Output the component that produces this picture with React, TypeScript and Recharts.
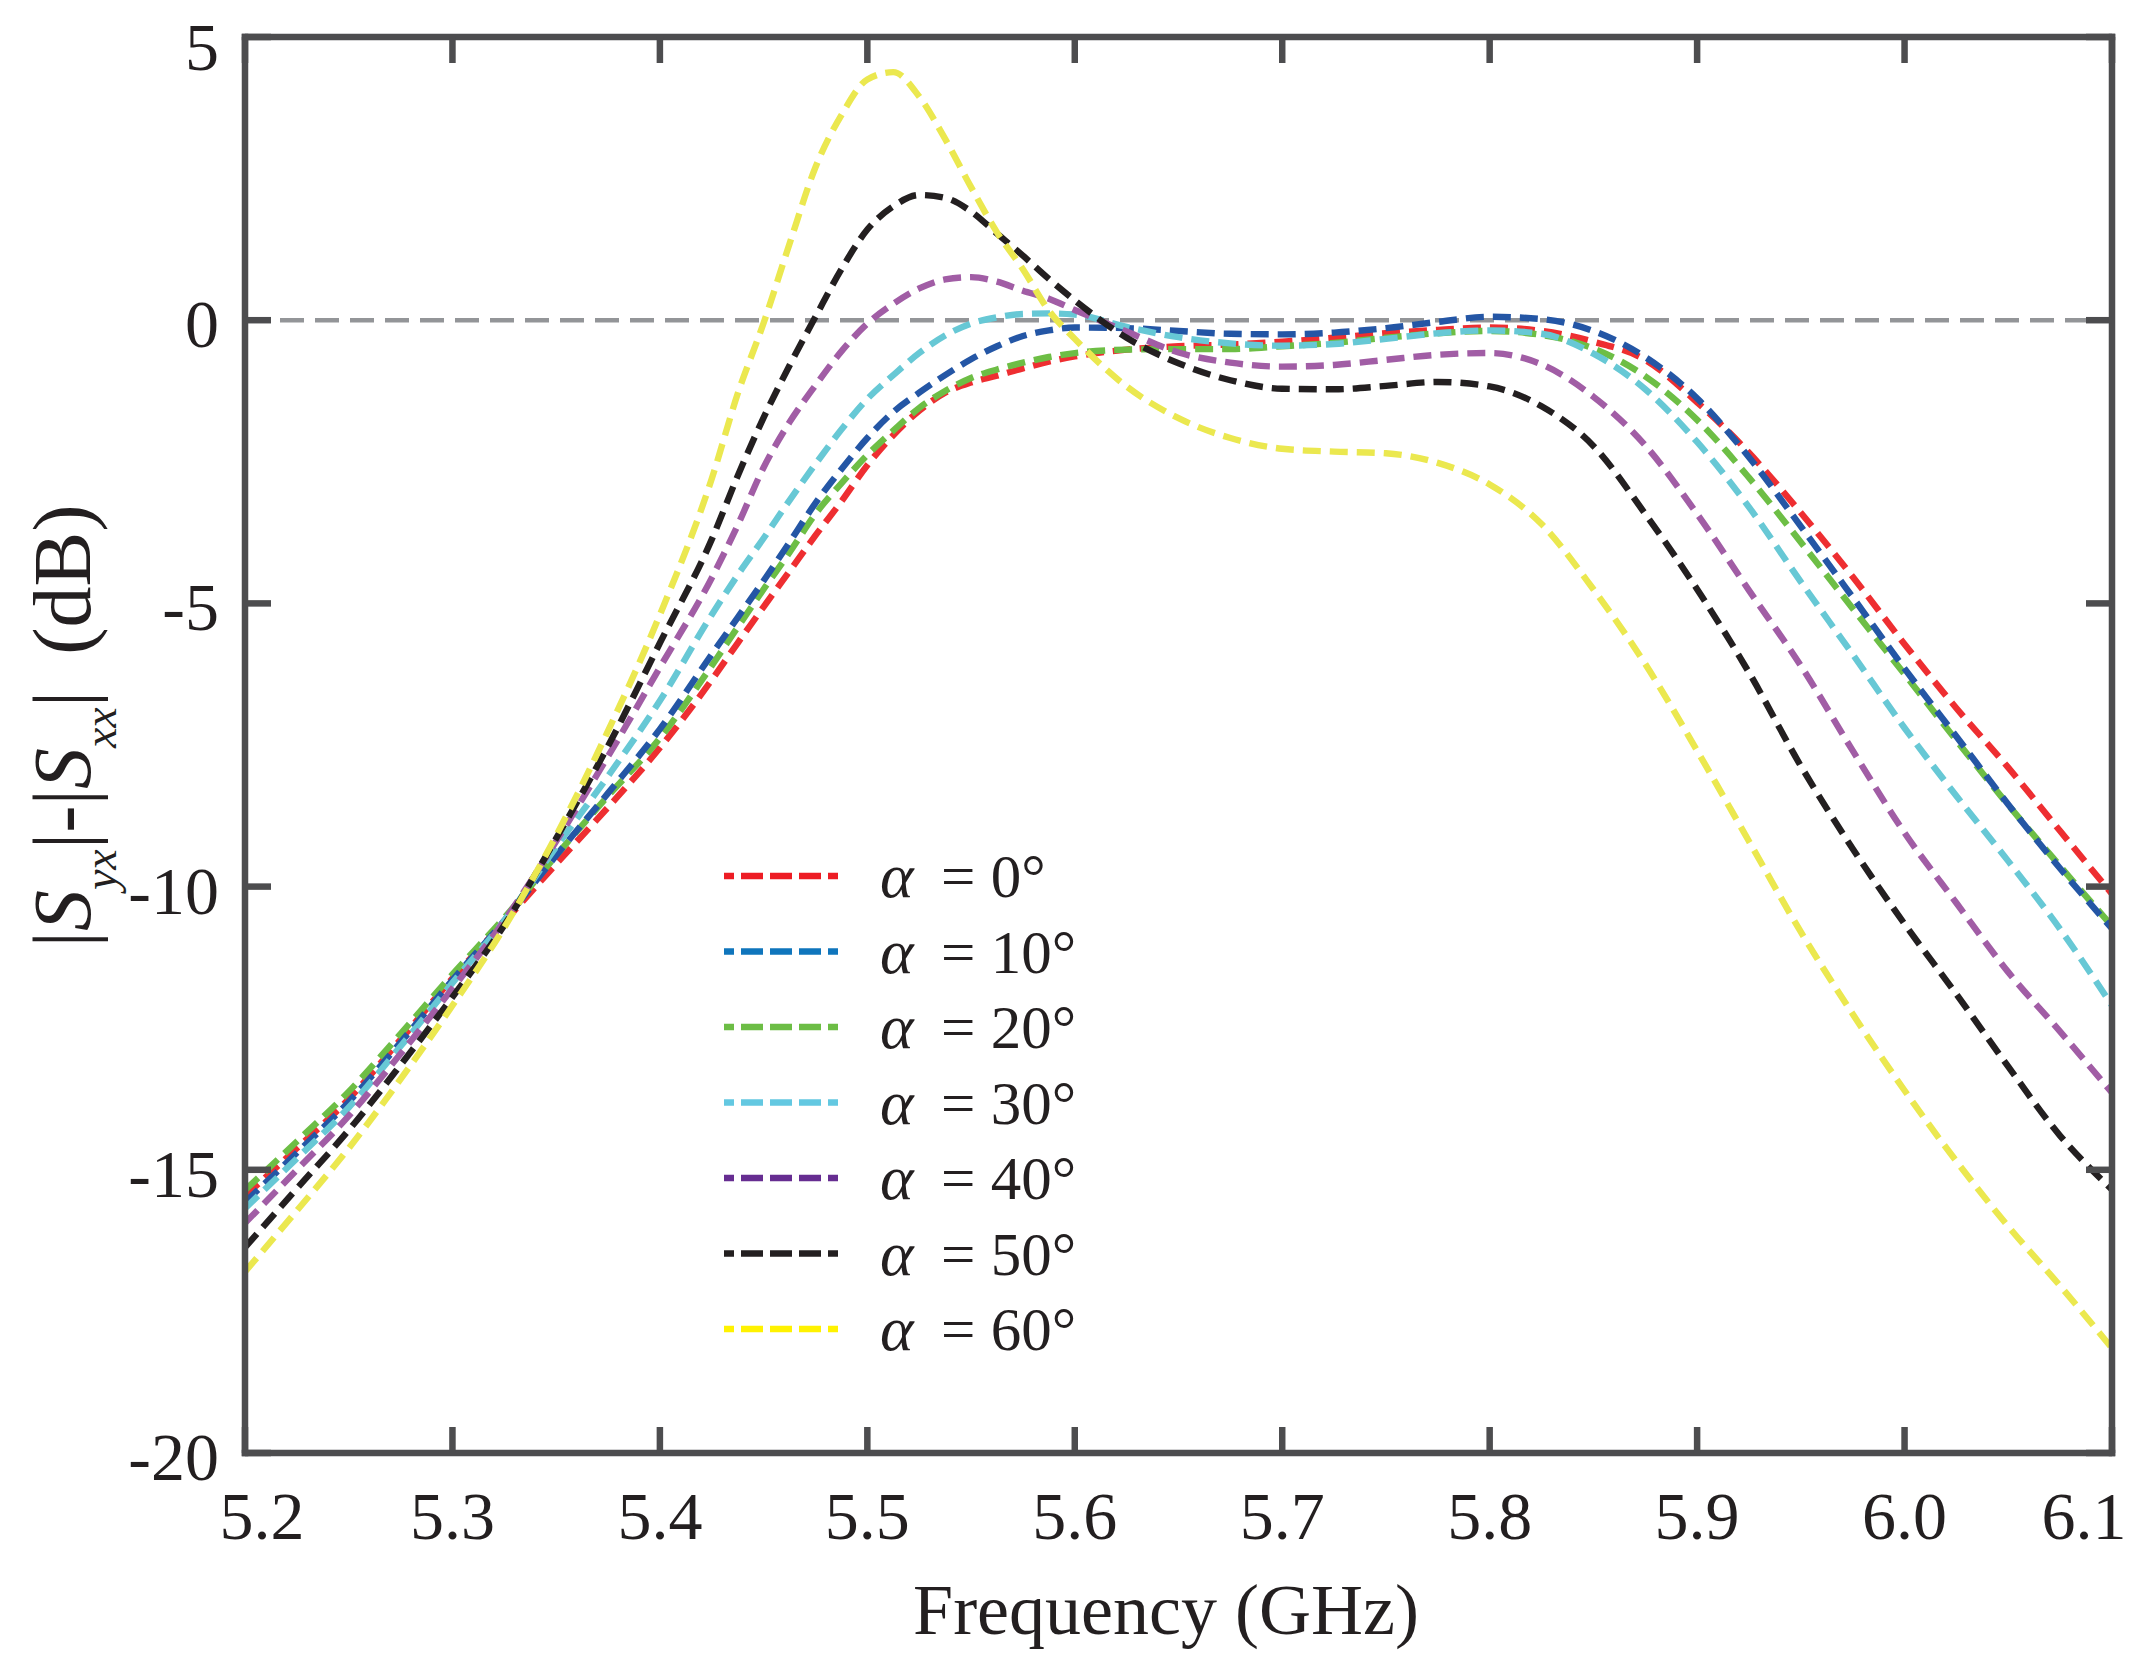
import React from 'react';
import { LineChart, Line, XAxis, YAxis, ReferenceLine, Legend } from 'recharts';

// frequency samples in GHz, shared by every curve (denser around the peaks)
const freq = [
  5.2, 5.225, 5.25, 5.275, 5.3, 5.325, 5.35, 5.375, 5.4, 5.425,
  5.4375, 5.45, 5.4625, 5.475, 5.4875, 5.5, 5.5125, 5.525, 5.5375, 5.55,
  5.5625, 5.575, 5.5875, 5.6, 5.625, 5.65, 5.675, 5.7, 5.725, 5.75,
  5.775, 5.8, 5.825, 5.85, 5.875, 5.9, 5.925, 5.95, 5.975, 6.0,
  6.025, 6.05, 6.075, 6.1,
];

// |Syx|-|Sxx| (dB), one list per angle
const alpha0 = [
  -15.46, -14.62, -13.75, -12.7, -11.62, -10.62, -9.6, -8.6, -7.55, -6.35,
  -5.7, -5.06, -4.43, -3.8, -3.2, -2.56, -2.03, -1.6, -1.28, -1.1,
  -0.98, -0.85, -0.73, -0.64, -0.52, -0.46, -0.43, -0.38, -0.31, -0.23,
  -0.17, -0.13, -0.19, -0.38, -0.7, -1.45, -2.34, -3.4, -4.53, -5.72,
  -6.85, -7.9, -9.02, -10.13,
];
const alpha10 = [
  -15.57, -14.7, -13.8, -12.75, -11.65, -10.6, -9.45, -8.35, -7.22, -5.9,
  -5.25, -4.6, -3.92, -3.23, -2.63, -2.08, -1.62, -1.28, -0.97, -0.69,
  -0.46, -0.28, -0.18, -0.13, -0.14, -0.19, -0.24, -0.25, -0.22, -0.14,
  -0.03, 0.06, 0.02, -0.19, -0.65, -1.38, -2.42, -3.64, -4.89, -6.15,
  -7.35, -8.55, -9.68, -10.74,
];
const alpha20 = [
  -15.36, -14.5, -13.62, -12.6, -11.55, -10.55, -9.45, -8.4, -7.38, -6.1,
  -5.42, -4.75, -4.1, -3.42, -2.88, -2.38, -1.95, -1.55, -1.25, -1.02,
  -0.87, -0.75, -0.65, -0.58, -0.52, -0.51, -0.51, -0.46, -0.4, -0.31,
  -0.23, -0.19, -0.26, -0.5, -0.99, -1.76, -2.78, -3.92, -5.09, -6.25,
  -7.42, -8.56, -9.64, -10.7,
];
const alpha30 = [
  -15.68, -14.8, -13.9, -12.82, -11.7, -10.6, -9.3, -8.05, -6.72, -5.2,
  -4.5, -3.85, -3.18, -2.54, -1.93, -1.39, -0.97, -0.58, -0.27, -0.06,
  0.05, 0.11, 0.12, 0.1, -0.12, -0.3, -0.41, -0.45, -0.42, -0.33,
  -0.23, -0.18, -0.24, -0.59, -1.22, -2.15, -3.3, -4.62, -5.9, -7.2,
  -8.4, -9.55, -10.75, -12.1,
];
const alpha40 = [
  -15.94, -15.0, -14.05, -12.95, -11.8, -10.6, -9.2, -7.7, -6.13, -4.55,
  -3.62, -2.6, -1.8, -1.15, -0.55, -0.06, 0.29, 0.56, 0.72, 0.76,
  0.68, 0.52, 0.38, 0.18, -0.2, -0.57, -0.75, -0.82, -0.79, -0.7,
  -0.61, -0.58, -0.78, -1.35, -2.21, -3.42, -4.77, -6.1, -7.6, -9.05,
  -10.29, -11.51, -12.56, -13.64,
];
const alpha50 = [
  -16.37, -15.33, -14.3, -13.15, -11.95, -10.68, -9.15, -7.52, -5.7, -3.87,
  -2.75, -1.72, -0.8, 0.06, 0.9, 1.6, 2.01, 2.21, 2.16, 1.92,
  1.53, 1.14, 0.73, 0.35, -0.31, -0.76, -1.06, -1.21, -1.22, -1.16,
  -1.09, -1.17, -1.52, -2.22, -3.42, -4.75, -6.22, -7.87, -9.33, -10.66,
  -11.9, -13.18, -14.4, -15.35,
];
const alpha60 = [
  -16.8, -15.72, -14.62, -13.4, -12.1, -10.72, -9.1, -7.25, -5.2, -2.8,
  -1.3, -0.05, 1.35, 2.7, 3.62, 4.25, 4.38, 3.95, 3.2, 2.35,
  1.55, 0.9, 0.17, -0.33, -1.17, -1.73, -2.08, -2.27, -2.32, -2.35,
  -2.52, -2.9, -3.6, -4.75, -6.07, -7.6, -9.2, -10.8, -12.25, -13.6,
  -14.85, -16.0, -17.05, -18.15,
];

const angles = [0, 10, 20, 30, 40, 50, 60];
const xTicks = [5.2, 5.3, 5.4, 5.5, 5.6, 5.7, 5.8, 5.9, 6.0, 6.1];
const yTicks = [-20, -15, -10, -5, 0, 5];

const series = [alpha0, alpha10, alpha20, alpha30, alpha40, alpha50, alpha60];
const keys = angles.map((a) => `a${a}`);
const data = freq.map((f, i) => {
  const row: Record<string, number> = { f };
  series.forEach((s, k) => {
    row[keys[k]] = s[i];
  });
  return row;
});

const FONT = 'Liberation Serif, Times New Roman, serif';
const AXIS = '#4d4d4f';
const TEXT = '#231f20';
const LINE_COLORS = ['#ee2e31', '#2456a5', '#6dbe45', '#67c8d5', '#a15da5', '#231f20', '#ebe84f'];
const LEGEND_COLORS = ['#ed1c24', '#0f75bc', '#6cbd45', '#63c8e1', '#662d91', '#231f20', '#fff200'];
const DRAW_ORDER = [0, 2, 1, 3, 4, 5, 6];

const W = 2149;
const H = 1671;
const PLOT = { left: 245, right: 2112, top: 37, bottom: 1453 };
const TICK_LEN = 26;
const FRAME_W = 6.5;
const Y_AXIS_W = 100;
const X_AXIS_H = 100;

function XTick(props: any) {
  const { x, payload, index } = props;
  const last = xTicks.length - 1;
  const shift = index === 0 ? 17 : index === last ? -28 : 0;
  return (
    <g>
      <line x1={x} x2={x} y1={PLOT.bottom} y2={PLOT.bottom - TICK_LEN} stroke={AXIS} strokeWidth={FRAME_W} />
      <line x1={x} x2={x} y1={PLOT.top} y2={PLOT.top + TICK_LEN} stroke={AXIS} strokeWidth={FRAME_W} />
      <text x={x + shift} y={1539} textAnchor="middle" fontFamily={FONT} fontSize={68} fill={TEXT}>
        {Number(payload.value).toFixed(1)}
      </text>
    </g>
  );
}

function YTick(props: any) {
  const { y, payload } = props;
  const dy = payload.value === 5 ? 10 : 4;
  return (
    <g>
      <line x1={PLOT.left} x2={PLOT.left + TICK_LEN} y1={y} y2={y} stroke={AXIS} strokeWidth={FRAME_W} />
      <line x1={PLOT.right} x2={PLOT.right - TICK_LEN} y1={y} y2={y} stroke={AXIS} strokeWidth={FRAME_W} />
      <text x={219} y={y + dy} textAnchor="end" dominantBaseline="central" fontFamily={FONT} fontSize={68} fill={TEXT}>
        {payload.value}
      </text>
    </g>
  );
}

function XLabel() {
  return (
    <text x={1166} y={1634} textAnchor="middle" fontFamily={FONT} fontSize={72} fill={TEXT}>
      Frequency (GHz)
    </text>
  );
}

function YLabel() {
  const cx = 90;
  const cy = 726;
  return (
    <text
      x={cx}
      y={cy}
      transform={`rotate(-90, ${cx}, ${cy})`}
      textAnchor="middle"
      fontFamily={FONT}
      fontSize={82}
      fill={TEXT}
    >
      <tspan>|</tspan>
      <tspan fontStyle="italic">S</tspan>
      <tspan fontStyle="italic" fontSize={46} dy={26}>yx</tspan>
      <tspan dy={-26}>|-|</tspan>
      <tspan fontStyle="italic">S</tspan>
      <tspan fontStyle="italic" fontSize={46} dy={26}>xx</tspan>
      <tspan dy={-26}>|</tspan>
      <tspan dx={36}>(dB)</tspan>
    </text>
  );
}

function AngleLegend() {
  const rowGap = 75.5;
  return (
    <svg width={420} height={560} style={{ display: 'block', overflow: 'visible' }}>
      {angles.map((a, i) => {
        const y = 56 + i * rowGap;
        return (
          <g key={a}>
            <line
              x1={24}
              x2={138}
              y1={y}
              y2={y}
              stroke={LEGEND_COLORS[i]}
              strokeWidth={6.4}
              strokeDasharray="22 7"
              strokeDashoffset={12}
            />
            <text x={180} y={y + 21} fontFamily={FONT} fontStyle="italic" fontSize={64} fill={TEXT}>
              α
            </text>
            <text x={241} y={y + 21} fontFamily={FONT} fontSize={61} fill={TEXT}>
              {`= ${a}°`}
            </text>
          </g>
        );
      })}
    </svg>
  );
}

export default function App() {
  return (
    <div style={{ position: 'absolute', left: 0, top: 0, width: W, height: H, background: '#fff' }}>
      <LineChart
        width={W}
        height={H}
        data={data}
        margin={{
          top: PLOT.top - 1,
          right: W - PLOT.right - 1,
          bottom: H - PLOT.bottom - X_AXIS_H,
          left: PLOT.left - Y_AXIS_W,
        }}
      >
        <XAxis
          dataKey="f"
          type="number"
          domain={[5.2, 6.1]}
          ticks={xTicks}
          interval={0}
          height={X_AXIS_H}
          tickSize={0}
          tickMargin={0}
          tickLine={false}
          tick={<XTick />}
          axisLine={{ stroke: AXIS, strokeWidth: FRAME_W, strokeLinecap: 'square' }}
          allowDataOverflow
          label={<XLabel />}
        />
        <XAxis
          xAxisId="top"
          orientation="top"
          dataKey="f"
          type="number"
          domain={[5.2, 6.1]}
          height={1}
          tick={false}
          tickLine={false}
          axisLine={{ stroke: AXIS, strokeWidth: FRAME_W, strokeLinecap: 'square' }}
        />
        <YAxis
          type="number"
          domain={[-20, 5]}
          ticks={yTicks}
          interval={0}
          width={Y_AXIS_W}
          tickSize={0}
          tickMargin={0}
          tickLine={false}
          tick={<YTick />}
          axisLine={{ stroke: AXIS, strokeWidth: FRAME_W, strokeLinecap: 'square' }}
          allowDataOverflow
          label={<YLabel />}
        />
        <YAxis
          yAxisId="right"
          orientation="right"
          type="number"
          domain={[-20, 5]}
          width={1}
          tick={false}
          tickLine={false}
          axisLine={{ stroke: AXIS, strokeWidth: FRAME_W, strokeLinecap: 'square' }}
        />
        <ReferenceLine y={0} stroke="#939598" strokeWidth={4.5} strokeDasharray="24 11" />
        {DRAW_ORDER.map((k) => (
          <Line
            key={keys[k]}
            type="monotone"
            dataKey={keys[k]}
            stroke={LINE_COLORS[k]}
            strokeWidth={6.4}
            strokeDasharray="18 9"
            dot={false}
            activeDot={false}
            isAnimationActive={false}
          />
        ))}
        <Legend
          layout="vertical"
          align="center"
          verticalAlign="middle"
          wrapperStyle={{ left: 700, top: 820, width: 420, height: 560 }}
          content={() => <AngleLegend />}
        />
      </LineChart>
    </div>
  );
}
